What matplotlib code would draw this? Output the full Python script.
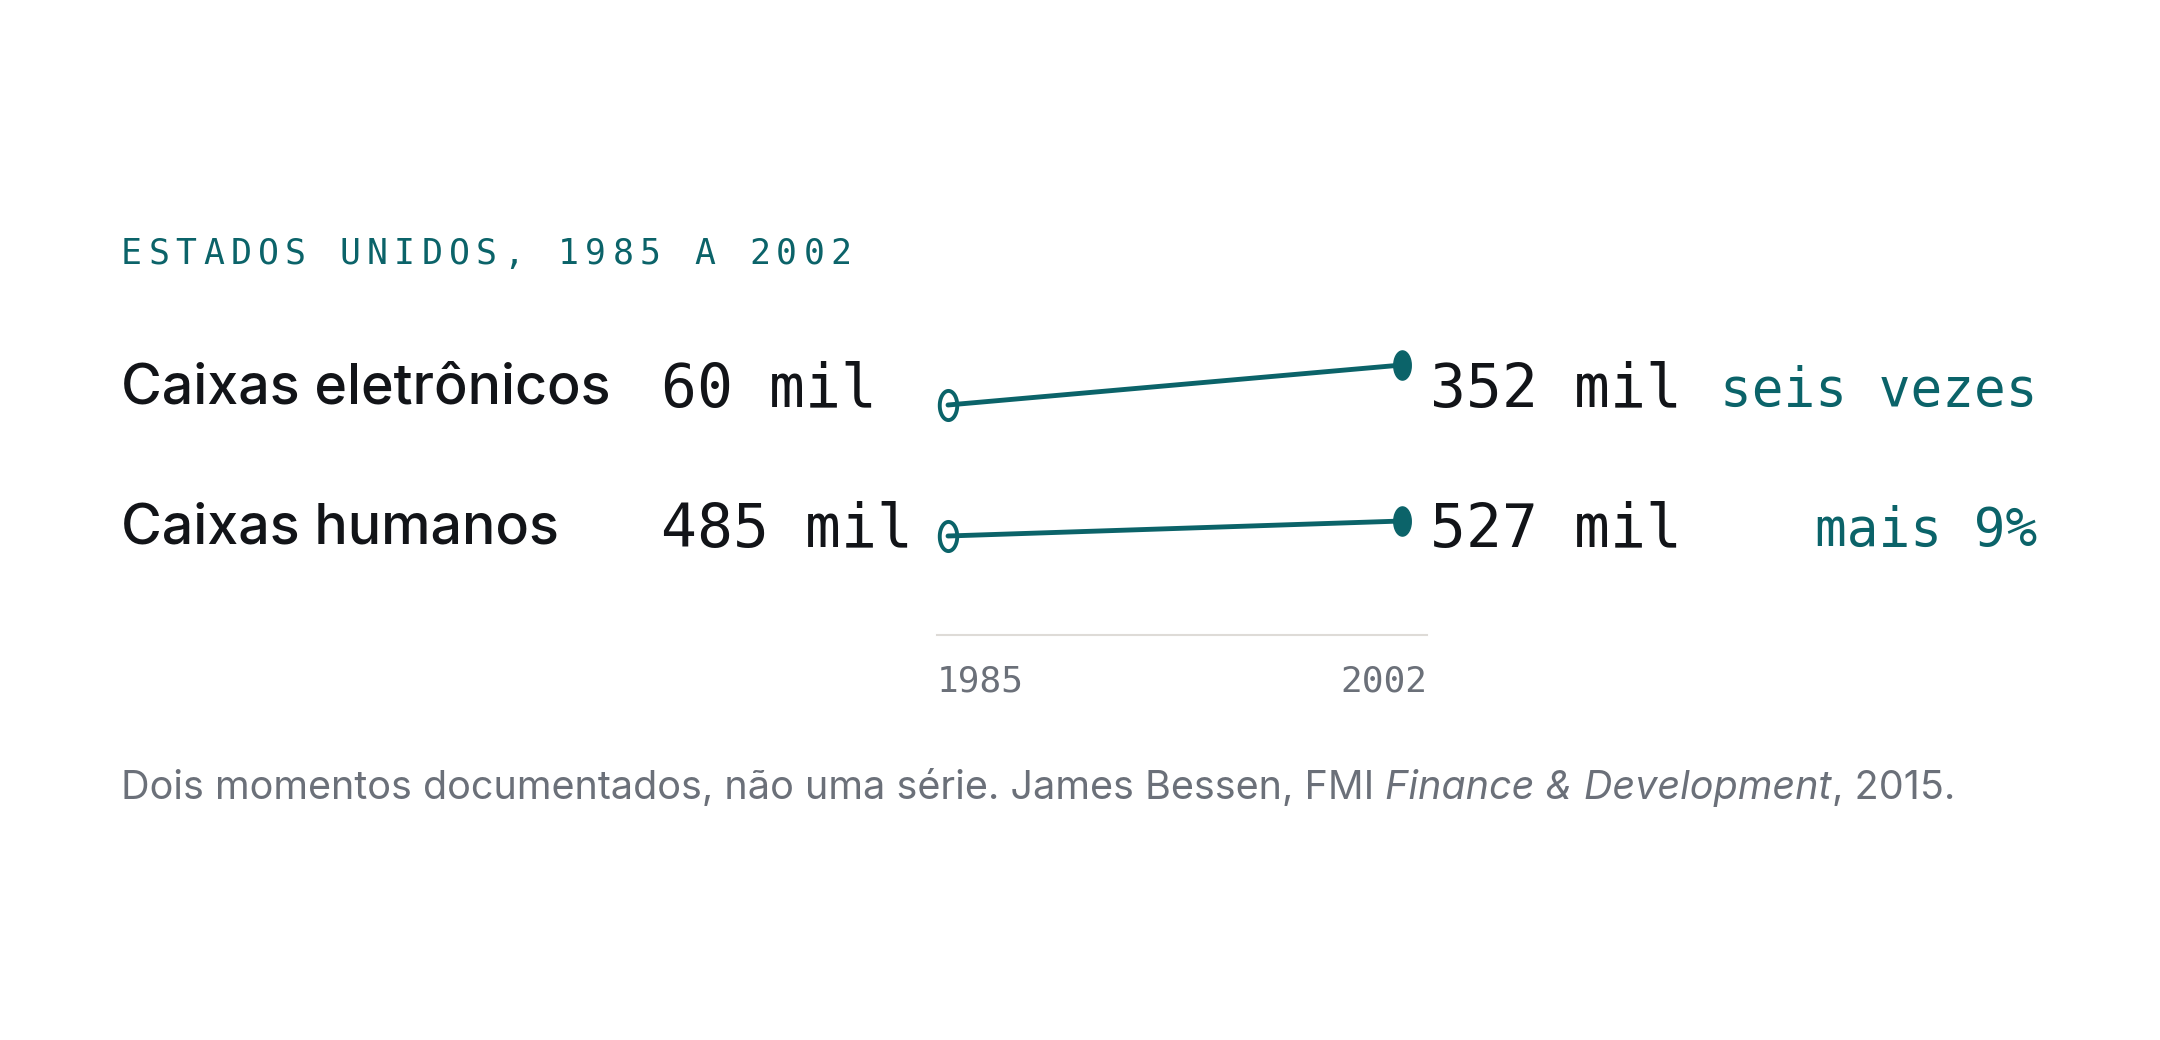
import numpy as np
import matplotlib
matplotlib.use("Agg")
import matplotlib.pyplot as plt

# dados
titulo = "ESTADOS UNIDOS, 1985 A 2002"
categorias = ["Caixas eletrônicos", "Caixas humanos"]
anos = [1985, 2002]
valores = [[60, 352], [485, 527]]          # milhares
variacao = ["seis vezes", "mais 9%"]
nota = [("Dois momentos documentados, não uma série. James Bessen, FMI ", "normal"),
        ("Finance & Development", "italic"),
        (", 2015.", "normal")]

# estilo
TEAL = "#0b6369"
INK = "#121418"
GREY = "#6b7079"
RULE = "#dedbd7"
SANS = ["Inter", "DejaVu Sans"]
MONO = ["DejaVu Sans Mono"]

W, H = 2160, 1040
fig = plt.figure(figsize=(W / 100, H / 100), dpi=100)
fig.patch.set_facecolor("white")


def fx(px):
    return px / W


def fy(py):
    return 1 - py / H


# titulo com espaçamento entre letras
for i, ch in enumerate(titulo):
    fig.text(fx(121 + i * 27.3), fy(254), ch, color=TEAL, family=MONO,
             fontsize=25, ha="left", va="center")

row_y = [391, 531]        # centro de cada linha (px)
rise_px = [40, 15]        # altura da faixa de cada linha
start_y = [405, 536]
x0_px, x1_px = 948, 1402

t = np.linspace(0, 2 * np.pi, 60)
ellipse = np.column_stack([0.6 * np.cos(t), np.sin(t)])

for i, cat in enumerate(categorias):
    fig.text(fx(121), fy(row_y[i] - 2), cat, color=INK, family=SANS,
             fontweight="medium", fontsize=40, ha="left", va="center")
    fig.text(fx(661), fy(row_y[i]), f"{valores[i][0]} mil", color=INK,
             family=MONO, fontsize=43, ha="left", va="center")
    fig.text(fx(1430), fy(row_y[i]), f"{valores[i][1]} mil", color=INK,
             family=MONO, fontsize=43, ha="left", va="center")
    fig.text(fx(2037), fy(row_y[i]), variacao[i], color=TEAL,
             family=MONO, fontsize=38, ha="right", va="center")

    ax = fig.add_axes([fx(x0_px), fy(start_y[i]), fx(x1_px) - fx(x0_px),
                       rise_px[i] / H])
    ax.set_xlim(anos[0], anos[1])
    ax.set_ylim(valores[i][0], valores[i][1])
    ax.axis("off")
    ax.plot(anos, valores[i], color=TEAL, lw=3.5, clip_on=False,
            solid_capstyle="round", zorder=2)
    ax.plot(anos[0], valores[i][0], marker=ellipse, ms=21, mfc="none",
            mec=TEAL, mew=2.8, clip_on=False, zorder=3)
    ax.plot(anos[1], valores[i][1], marker=ellipse, ms=21, mfc=TEAL,
            mec=TEAL, clip_on=False, zorder=3)

# eixo de anos
fig.add_artist(plt.Line2D([fx(937), fx(1427)], [fy(635), fy(635)],
                          color=RULE, lw=1.5))
fig.text(fx(937), fy(682), str(anos[0]), color=GREY, family=MONO,
         fontsize=26, ha="left", va="center")
fig.text(fx(1427), fy(682), str(anos[1]), color=GREY, family=MONO,
         fontsize=26, ha="right", va="center")

# nota com trecho em itálico
renderer = fig.canvas.get_renderer()
x = fx(121)
for txt, style in nota:
    tt = fig.text(x, fy(788), txt, color=GREY, family=SANS, fontsize=28.5,
                  style=style, ha="left", va="center")
    bb = tt.get_window_extent(renderer)
    x = bb.x1 / W

fig.savefig("out.png", dpi=100, facecolor="white")
